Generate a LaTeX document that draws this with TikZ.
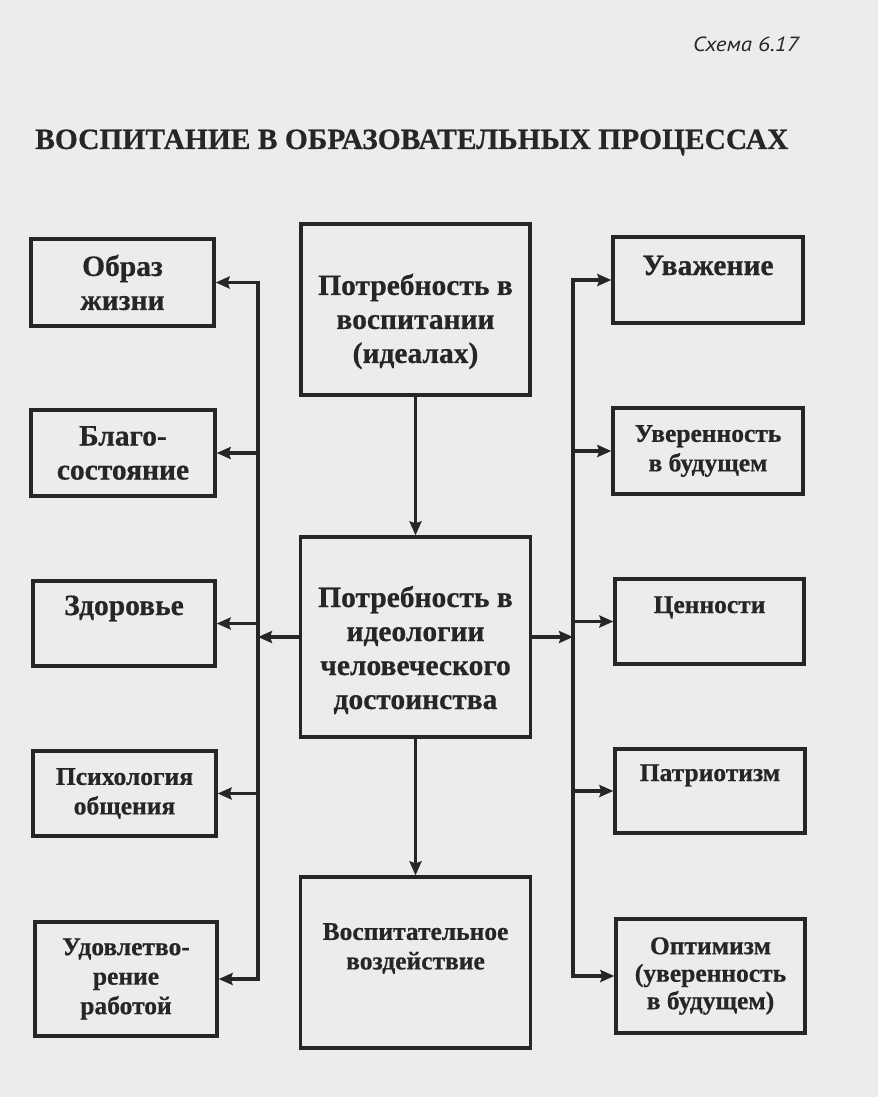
\documentclass[tikz,border=0pt]{standalone}
\usepackage{fontspec}
\usepackage{graphicx}
\setmainfont{Liberation Serif}[BoldFeatures={FakeBold=0.6}]
\newfontfamily\capfont{PT Sans}
\usetikzlibrary{arrows.meta,calc}
\definecolor{bg}{RGB}{236,236,236}
\definecolor{ink}{RGB}{38,38,38}
\begin{document}
\begin{tikzpicture}[x=1pt,y=-1pt,
  big/.style={font=\bfseries\fontsize{29.5}{34}\selectfont},
  small/.style={font=\bfseries\fontsize{25.5}{29.5}\selectfont},
  box/.style={draw=ink, line width=3.3pt, fill=bg, align=center, inner sep=0pt,
              big, text=ink},
  txt/.style={align=center, inner sep=0pt, text=ink},
  arr/.style={draw=ink, line width=3.3pt, line join=miter,
              -{Stealth[length=14pt,width=12pt,inset=2pt]}},
  upper/.style={text height=20pt, text depth=#1},
  upper/.default=31pt
]
\fill[bg] (0,0) rectangle (878,1097);
\useasboundingbox (0,0) rectangle (878,1097);

% headings
\node[font=\capfont\itshape\fontsize{20.5}{24}\selectfont, text=ink, anchor=base east, inner sep=0pt]
  (schema) at (799,52) {\scalebox{1.12}[1]{Схема 6.17}};
\node[big, text=ink, anchor=base west, inner sep=0pt]
  (title) at (35,149) {ВОСПИТАНИЕ В ОБРАЗОВАТЕЛЬНЫХ ПРОЦЕССАХ};

% left column
\node[box, minimum width=183pt, minimum height=87pt] (obr) at (122.5,282.5) {Образ\\жизни};
\node[box, minimum width=184pt, minimum height=86pt] (blago) at (123,453) {Благо-\\состояние};
\node[box, upper=37pt, minimum width=182pt, minimum height=85pt] (zdor) at (124,623.5) {Здоровье};
\node[box, small, minimum width=183pt, minimum height=85pt] (psih) at (124.5,793.5) {Психология\\общения};
\node[box, small, minimum width=182pt, minimum height=114pt] (udov) at (126,979) {Удовлетво-\\рение\\работой};

% centre column
\node[box, minimum width=229pt, minimum height=171pt] (c1) at (415.5,309.5) {};
\node[txt, big] (c1t) at ($(c1.center)+(0,12)$) {Потребность в\\воспитании\\(идеалах)};
\node[box, minimum width=230pt, minimum height=200pt] (c2) at (415.5,637) {};
\node[txt, big] (c2t) at ($(c2.center)+(0,13)$) {Потребность в\\идеологии\\человеческого\\достоинства};
\node[box, minimum width=230pt, minimum height=171pt] (c3) at (415.5,962.5) {};
\node[txt, small] (c3t) at ($(c3.center)+(0,-14)$) {Воспитательное\\воздействие};

% right column
\node[box, upper=30pt, minimum width=190pt, minimum height=86pt] (uv) at (708,280) {Уважение};
\node[box, small, minimum width=190pt, minimum height=86pt] (uver) at (708,451) {Уверенность\\в будущем};
\node[box, small, upper=37pt, minimum width=189pt, minimum height=85pt] (cen) at (709.5,621.5) {Ценности};
\node[box, small, upper=40pt, minimum width=190pt, minimum height=84pt] (patr) at (710,791) {Патриотизм};
\node[box, font=\bfseries\fontsize{25.5}{27.5}\selectfont, minimum width=189pt, minimum height=114pt] (opt) at (710.5,976) {Оптимизм\\(уверенность\\в будущем)};

% buses
\coordinate (lx) at (258,0);
\coordinate (rx) at (573,0);

% centre chain
\draw[arr] (c1.south) -- (c2.north);
\draw[arr] (c2.south) -- (c3.north);

% left side
\draw[arr] (c2.west) -- (c2.west -| lx);
\draw[arr] (c2.west -| lx) -- (obr.east -| lx) -- (obr.east);
\draw[arr] (c2.west -| lx) -- (udov.east -| lx) -- (udov.east);
\draw[arr] (blago.east -| lx) -- (blago.east);
\draw[arr] (zdor.east -| lx) -- (zdor.east);
\draw[arr] (psih.east -| lx) -- (psih.east);

% right side
\draw[arr] (c2.east) -- (c2.east -| rx);
\draw[arr] (c2.east -| rx) -- (uv.west -| rx) -- (uv.west);
\draw[arr] (c2.east -| rx) -- (opt.west -| rx) -- (opt.west);
\draw[arr] (uver.west -| rx) -- (uver.west);
\draw[arr] (cen.west -| rx) -- (cen.west);
\draw[arr] (patr.west -| rx) -- (patr.west);
\end{tikzpicture}
\end{document}
